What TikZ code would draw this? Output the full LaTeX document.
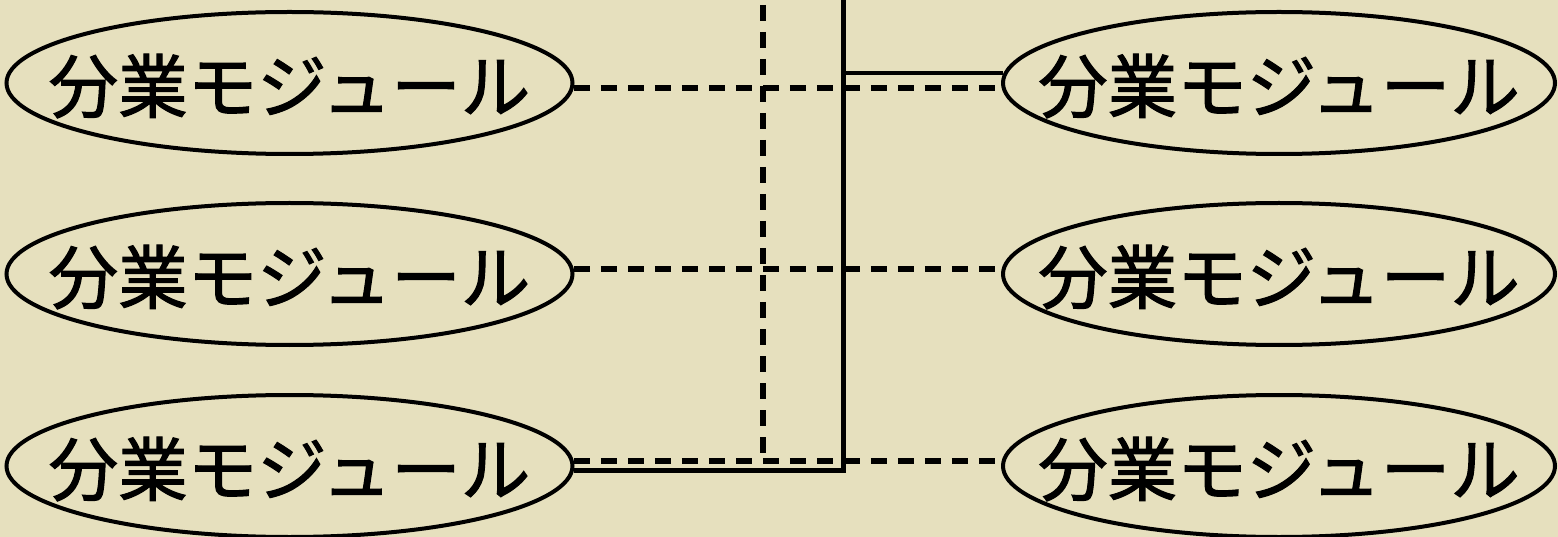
\documentclass[tikz,border=0pt]{standalone}
\usepackage{fontspec}
\newfontfamily\jp[UprightFeatures={FakeBold=1.6}]{Noto Sans CJK JP}
\usetikzlibrary{shapes.geometric}
\definecolor{bg}{RGB}{230,224,190}
\begin{document}
\begin{tikzpicture}[x=1pt,y=-1pt,
  lab/.style={inner sep=0pt,font=\jp\fontsize{69.5}{69.5}\selectfont},
  mod/.style={ellipse,draw,line width=4pt,minimum width=566pt,minimum height=142pt,inner sep=0pt},
  rmod/.style={mod,minimum width=552pt},
  dsh/.style={line width=5.2pt,dash pattern=on 16pt off 11pt},
  sol/.style={line width=5pt},
  thinsol/.style={line width=4pt}]
\fill[bg] (0,0) rectangle (1558,537);
\useasboundingbox (0,0) rectangle (1558,537);
\node[mod,label={[lab,yshift=-3pt]center:分業モジュール}] (L1) at (289.5,83) {};
\node[mod,label={[lab,yshift=-3pt]center:分業モジュール}] (L2) at (289.5,274) {};
\node[mod,label={[lab,yshift=-3pt]center:分業モジュール}] (L3) at (289.5,466) {};
\node[rmod,label={[lab,yshift=-3pt]center:分業モジュール}] (R1) at (1279,83) {};
\node[rmod,label={[lab,yshift=-3pt]center:分業モジュール}] (R2) at (1279,274) {};
\node[rmod,label={[lab,yshift=-3pt]center:分業モジュール}] (R3) at (1279,466) {};
\coordinate (vtop) at (843,0);
\coordinate (dtop) at (763,5);
\draw[sol] (vtop) |- (L3.-1.6);
\draw[thinsol] (vtop |- R1.178.2) -- (R1.178.2);
\draw[dsh] (dtop) -- (dtop |- L3.1.4);
\draw[dsh] (L1.-1.4) -- ([xshift=1pt]L1.-1.4 -| R1.west);
\draw[dsh] (L2.1.8) -- ([xshift=2pt]L2.1.8 -| R2.west);
\draw[dsh] (L3.1.4) -- ([xshift=1pt]L3.1.4 -| R3.west);
\end{tikzpicture}
\end{document}
